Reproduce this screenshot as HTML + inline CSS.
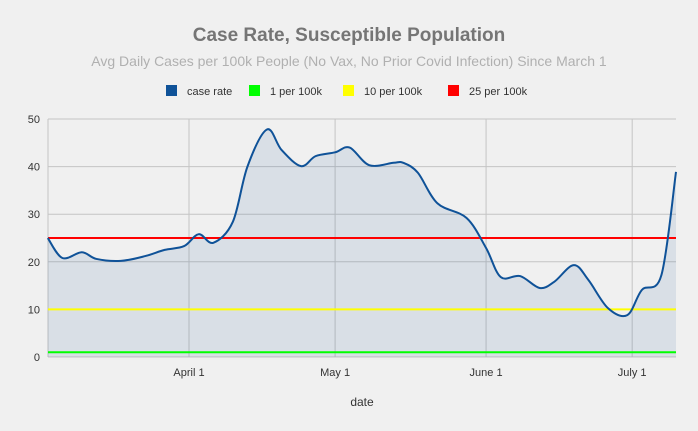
<!DOCTYPE html>
<html><head><meta charset="utf-8"><style>
body{margin:0;background:#f0f0f0;font-family:"Liberation Sans",sans-serif;}
svg{display:block}
</style></head><body>
<svg id="chart" width="698" height="431">
<rect width="698" height="431" fill="#f0f0f0"/>
<text x="349" y="41" text-anchor="middle" font-size="19" font-weight="bold" fill="#757575">Case Rate, Susceptible Population</text>
<text x="349" y="66" text-anchor="middle" font-size="14" fill="#b0b0b0">Avg Daily Cases per 100k People (No Vax, No Prior Covid Infection) Since March 1</text>
<g id="legend"></g>
<g id="grid"></g>
<g id="plot"></g>
<text x="362" y="406" text-anchor="middle" font-size="12" fill="#333">date</text>
</svg>
<script>
const days=[2,5,9,12,17,22,26,30,33,36,40,43,47,50,54,57,61,64,68,73,75,78,82,88,92,95,99,103,106,110,113,117,121,124,128,131];
const caseRate=[25,20.8,22,20.6,20.2,21.2,22.5,23.3,25.8,24,28.4,40,47.8,43.5,40.1,42.2,43,44,40.3,40.8,40.8,38.7,32.3,29.2,22.9,16.8,17,14.5,15.8,19.3,16.2,10.3,8.8,14.1,17.2,38.9];
const thresholds=[1,10,25];
const thresholdColors=["#00ff00","#ffff00","#ff0000"];
const yTicks=[0,10,20,30,40,50];
const xTickDays=[31,61,92,122];
const xTickLabels=["April 1","May 1","June 1","July 1"];
const legendLabels=["case rate","1 per 100k","10 per 100k","25 per 100k"];
const legendColors=["#0f5298","#00ff00","#ffff00","#ff0000"];
const NS="http://www.w3.org/2000/svg";
const X0=48,X1=676,Y0=357,Y1=119;
const xs=d=>189+(d-31)*4.87;
const ys=v=>Y0-(v/50)*(Y0-Y1);
function mk(t,a,p){const e=document.createElementNS(NS,t);for(const k in a)e.setAttribute(k,a[k]);p.appendChild(e);return e;}
const grid=document.getElementById('grid'),plot=document.getElementById('plot'),leg=document.getElementById('legend');
yTicks.forEach(v=>{
 const l=mk('line',{x1:X0,x2:X1,y1:ys(v),y2:ys(v),stroke:'#c4c4c4','stroke-width':1},grid);
 
 
 const t=mk('text',{x:40,y:ys(v)+4,'text-anchor':'end','font-size':11,fill:'#333'},grid);t.textContent=v;
 
 
});
mk('line',{x1:X0,x2:X0,y1:Y1,y2:Y0,stroke:'#c4c4c4'},grid);
xTickDays.forEach((d,i)=>{
 const l=mk('line',{x1:xs(d),x2:xs(d),y1:Y1,y2:Y0,stroke:'#c4c4c4'},grid);
 
 
 const t=mk('text',{x:xs(d),y:376,'text-anchor':'middle','font-size':11,fill:'#333'},grid);t.textContent=xTickLabels[i];
 
 
});
const pts=days.map((d,i)=>[xs(d),ys(caseRate[i])]);
let path=`M${pts[0][0]},${pts[0][1]}`;
for(let i=0;i<pts.length-1;i++){
 const p0=pts[i-1]||pts[i],p1=pts[i],p2=pts[i+1],p3=pts[i+2]||p2;
 const c1=[p1[0]+(p2[0]-p0[0])/6,p1[1]+(p2[1]-p0[1])/6],c2=[p2[0]-(p3[0]-p1[0])/6,p2[1]-(p3[1]-p1[1])/6];
 path+=`C${c1[0]},${c1[1]} ${c2[0]},${c2[1]} ${p2[0]},${p2[1]}`;
}
const area=mk('path',{d:path+`L${pts[pts.length-1][0]},${Y0}L${pts[0][0]},${Y0}Z`,fill:'#0f5298','fill-opacity':0.1},plot);


thresholds.forEach((v,i)=>{
 const l=mk('line',{x1:X0,x2:X1,y1:ys(v),y2:ys(v),stroke:thresholdColors[i],'stroke-width':2},plot);
 
 
});
const line=mk('path',{d:path,fill:'none',stroke:'#0f5298','stroke-width':2},plot);


const lx=[166,249,343,448];
legendLabels.forEach((s,i)=>{
 const r=mk('rect',{x:lx[i],y:85,width:11,height:11,fill:legendColors[i]},leg);
 
 
 const t=mk('text',{x:lx[i]+21,y:95,'font-size':11,fill:'#333'},leg);t.textContent=s;
 
 
});
</script>
</body></html>
